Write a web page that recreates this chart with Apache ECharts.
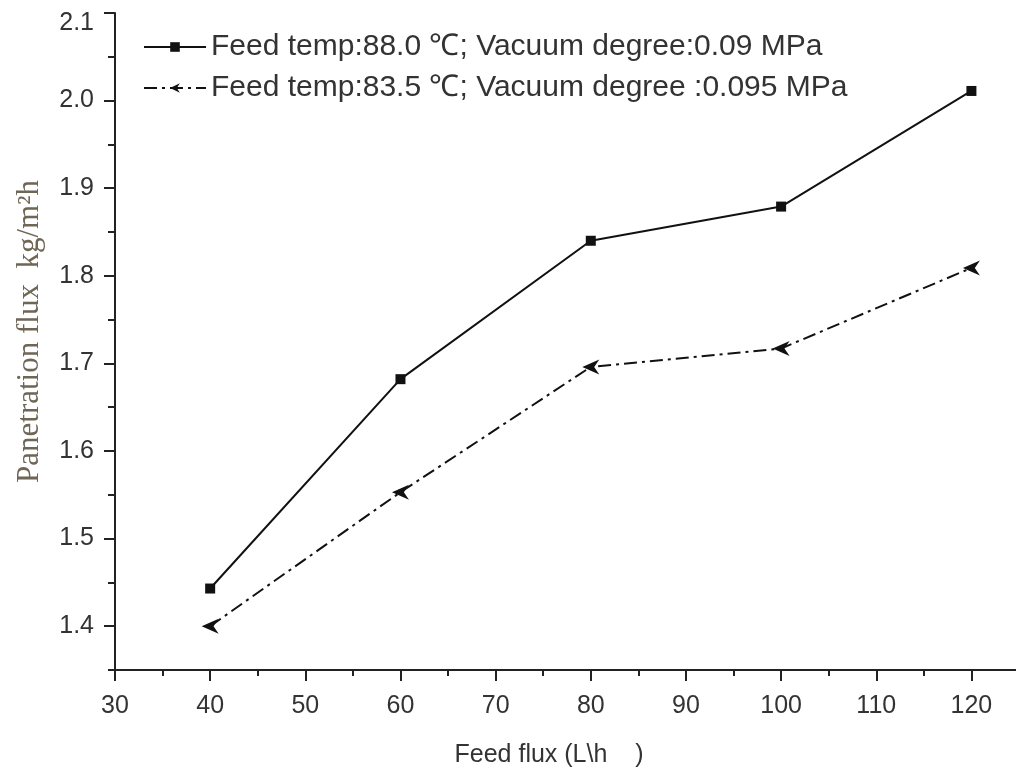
<!DOCTYPE html>
<html>
<head>
<meta charset="utf-8">
<script src="https://cdn.jsdelivr.net/npm/echarts@6/dist/echarts.min.js"></script>
<style>
  html, body { margin: 0; padding: 0; background: #fff; }
  #chart { width: 1016px; height: 769px; }
</style>
</head>
<body>
<div id="chart"></div>
<script>
// x categories (feed flux, L/h)
const feedFlux = [40, 60, 80, 100, 120]
// 88.0 ℃, 0.09 MPa
const fluxA = [1.443, 1.682, 1.84, 1.879, 2.011]
// 83.5 ℃, 0.095 MPa
const fluxB = [1.40, 1.553, 1.696, 1.717, 1.809]

const nameA = 'Feed temp:88.0 ℃; Vacuum degree:0.09 MPa'
const nameB = 'Feed temp:83.5 ℃; Vacuum degree :0.095 MPa'

// tick labels
const xTicks = [30, 40, 50, 60, 70, 80, 90, 100, 110, 120]
const yTicks = [1.4, 1.5, 1.6, 1.7, 1.8, 1.9, 2.0, 2.1]

const axisColor = '#222'
const labelColor = '#333'
const sans = 'Liberation Sans'
// left pointing arrow head with notch
const arrowLeft = 'path://M0,5 L10,0 L7,5 L10,10 Z'

const myChart = echarts.init(document.getElementById('chart'))

const option = {
  backgroundColor: '#fff',
  animation: false,
  grid: { left: 115, right: -3, top: 13, bottom: 99, outerBoundsMode: 'none', containLabel: false },
  legend: {
    orient: 'vertical',
    left: 138,
    top: 27,
    itemWidth: 62,
    itemHeight: 12,
    itemGap: 11,
    textStyle: { fontFamily: sans, fontSize: 30, color: '#333' },
    data: [nameA, nameB]
  },
  xAxis: [
    {
      type: 'value',
      min: 30,
      max: 125,
      interval: 10,
      name: 'Feed flux (L\\h    )',
      nameLocation: 'middle',
      nameGap: 73,
      nameTextStyle: { fontFamily: sans, fontSize: 25, color: '#333', padding: [0, 36, 0, 0] },
      axisLine: { onZero: false, lineStyle: { color: axisColor, width: 2 } },
      axisTick: { customValues: xTicks, length: 11, lineStyle: { color: axisColor, width: 2 } },
      axisLabel: { customValues: xTicks, fontFamily: sans, fontSize: 25, color: labelColor, margin: 24 },
      splitLine: { show: false }
    },
    {
      // minor ticks
      type: 'value',
      position: 'bottom',
      min: 30,
      max: 125,
      interval: 5,
      axisLine: { show: false },
      axisTick: { length: 6, lineStyle: { color: axisColor, width: 2 } },
      axisLabel: { show: false },
      splitLine: { show: false }
    }
  ],
  yAxis: [
    {
      type: 'value',
      min: 1.35,
      max: 2.1,
      name: 'Panetration flux  kg/m²h',
      nameLocation: 'middle',
      nameRotate: 90,
      nameGap: 70,
      nameTextStyle: {
        fontFamily: 'Liberation Serif', fontSize: 31, color: '#6f6656',
        padding: [0, 0, 0, 20]
      },
      axisLine: { show: true, onZero: false, lineStyle: { color: axisColor, width: 2 } },
      axisTick: { customValues: yTicks, length: 11, lineStyle: { color: axisColor, width: 2 } },
      axisLabel: {
        customValues: yTicks,
        fontFamily: sans, fontSize: 25, color: labelColor, margin: 21,
        // top label sits lower in the picture
        formatter: v => (v === 2.1 ? '{t|' + v.toFixed(1) + '}' : v.toFixed(1)),
        rich: { t: { fontFamily: sans, fontSize: 25, color: labelColor, padding: [20, 0, 0, 0] } }
      },
      splitLine: { show: false }
    },
    {
      // minor ticks
      type: 'value',
      position: 'left',
      min: 1.35,
      max: 2.1,
      interval: 0.05,
      axisLine: { show: false },
      axisTick: { length: 7, lineStyle: { color: axisColor, width: 2 } },
      axisLabel: { show: false },
      splitLine: { show: false }
    }
  ],
  series: [
    {
      name: nameA,
      type: 'line',
      data: feedFlux.map((x, i) => [x, fluxA[i]]),
      symbol: 'rect',
      symbolSize: 10,
      itemStyle: { color: '#111' },
      lineStyle: { color: '#111', width: 2 }
    },
    {
      name: nameB,
      type: 'line',
      data: feedFlux.map((x, i) => [x, fluxB[i]]),
      symbol: arrowLeft,
      symbolSize: [17, 15],
      itemStyle: { color: '#111' },
      lineStyle: { color: '#111', width: 2, type: [13, 5, 3, 5] }
    }
  ]
}

myChart.setOption(option)
</script>
</body>
</html>
